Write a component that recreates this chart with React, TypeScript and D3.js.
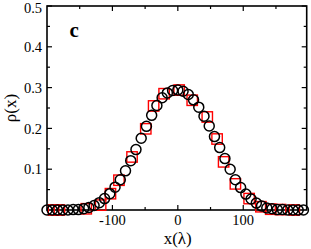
import React from "react";
import * as d3 from "d3";

const circleX = [-200,-192,-184,-176,-168,-160,-152,-144,-136,-128,-120,-112,-104,-96,-88,-80,-72,-64,-56,-48,-40,-32,-24,-16,-8,0,8,16,24,32,40,48,56,64,72,80,88,96,104,112,120,128,136,144,152,160,168,176,184,192];
const circleY = [0,0,0,0,0,0.001,0.001,0.003,0.006,0.011,0.018,0.028,0.040,0.056,0.074,0.096,0.121,0.148,0.176,0.205,0.232,0.256,0.275,0.287,0.293,0.294,0.291,0.283,0.270,0.252,0.230,0.206,0.180,0.153,0.126,0.100,0.074,0.055,0.039,0.027,0.017,0.010,0.005,0.003,0.001,0.001,0,0,0,0];

const squareX = [-190,-181,-140,-118,-103,-90,-70,-49,-37,-21,2,22,45,60,70,88,109,127,142,157,178];
const squareY = [0,0,0.003,0.012,0.040,0.073,0.130,0.199,0.255,0.285,0.294,0.269,0.228,0.174,0.118,0.064,0.028,0.008,0.002,0.001,0];

const xMajor = [-100, 0, 100];
const xMinor = [-150, -50, 50, 150];
const yMajor = [0.1, 0.2, 0.3, 0.4, 0.5];
const yMinor = [0.05, 0.15, 0.25, 0.35, 0.45];

export default function App() {
  const W = 311, H = 249;
  const L = 47, R = 306.7, T = 6, B = 210;
  const x = d3.scaleLinear().domain([-200, 197]).range([L, R]);
  const y = d3.scaleLinear().domain([0, 0.5]).range([B, T]);
  const font = "'Liberation Serif', 'Times New Roman', serif";
  const sq = 10.4;
  return (
    <svg width={W} height={H} style={{ position: "absolute", left: 0, top: 0, background: "#fff" }}>
      <g stroke="#000" strokeWidth={1.2}>
        {xMajor.map((v) => (
          <g key={"xm" + v}>
            <line x1={x(v)} x2={x(v)} y1={B} y2={B - 5} />
            <line x1={x(v)} x2={x(v)} y1={T} y2={T + 5} />
          </g>
        ))}
        {xMinor.map((v) => (
          <g key={"xn" + v}>
            <line x1={x(v)} x2={x(v)} y1={B} y2={B - 3} />
            <line x1={x(v)} x2={x(v)} y1={T} y2={T + 3} />
          </g>
        ))}
        {yMajor.map((v) => (
          <g key={"ym" + v}>
            <line x1={L} x2={L + 5} y1={y(v)} y2={y(v)} />
            <line x1={R} x2={R - 5} y1={y(v)} y2={y(v)} />
          </g>
        ))}
        {yMinor.map((v) => (
          <g key={"yn" + v}>
            <line x1={L} x2={L + 3} y1={y(v)} y2={y(v)} />
            <line x1={R} x2={R - 3} y1={y(v)} y2={y(v)} />
          </g>
        ))}
      </g>
      <rect x={L} y={T} width={R - L} height={B - T} fill="none" stroke="#000" strokeWidth={1.6} />
      <g fill="none" stroke="#ff0000" strokeWidth={1.4}>
        {squareX.map((v, i) => (
          <rect key={"s" + i} x={x(v) - sq / 2} y={y(squareY[i]) - sq / 2} width={sq} height={sq} />
        ))}
      </g>
      <g fill="none" stroke="#000" strokeWidth={1.5}>
        {circleX.map((v, i) => (
          <circle key={"c" + i} cx={x(v)} cy={y(circleY[i])} r={5} />
        ))}
      </g>
      <g fontFamily={font} fontSize={14.5} fill="#000">
        {xMajor.map((v) => (
          <text key={"xl" + v} x={x(v)} y={224.5} textAnchor="middle">{String(v)}</text>
        ))}
        {yMajor.map((v) => (
          <text key={"yl" + v} x={42} y={Math.max(y(v) + 5.1, 13)} textAnchor="end">{v.toFixed(1)}</text>
        ))}
      </g>
      <text x={177.7} y={243.5} textAnchor="middle" fontFamily={font} fontSize={17}>x(λ)</text>
      <text transform={`translate(16,${(T + B) / 2}) rotate(-90)`} textAnchor="middle" fontFamily={font} fontSize={17}>ρ(x)</text>
      <text x={69.5} y={36.5} fontFamily={font} fontSize={21} fontWeight="bold">c</text>
    </svg>
  );
}
